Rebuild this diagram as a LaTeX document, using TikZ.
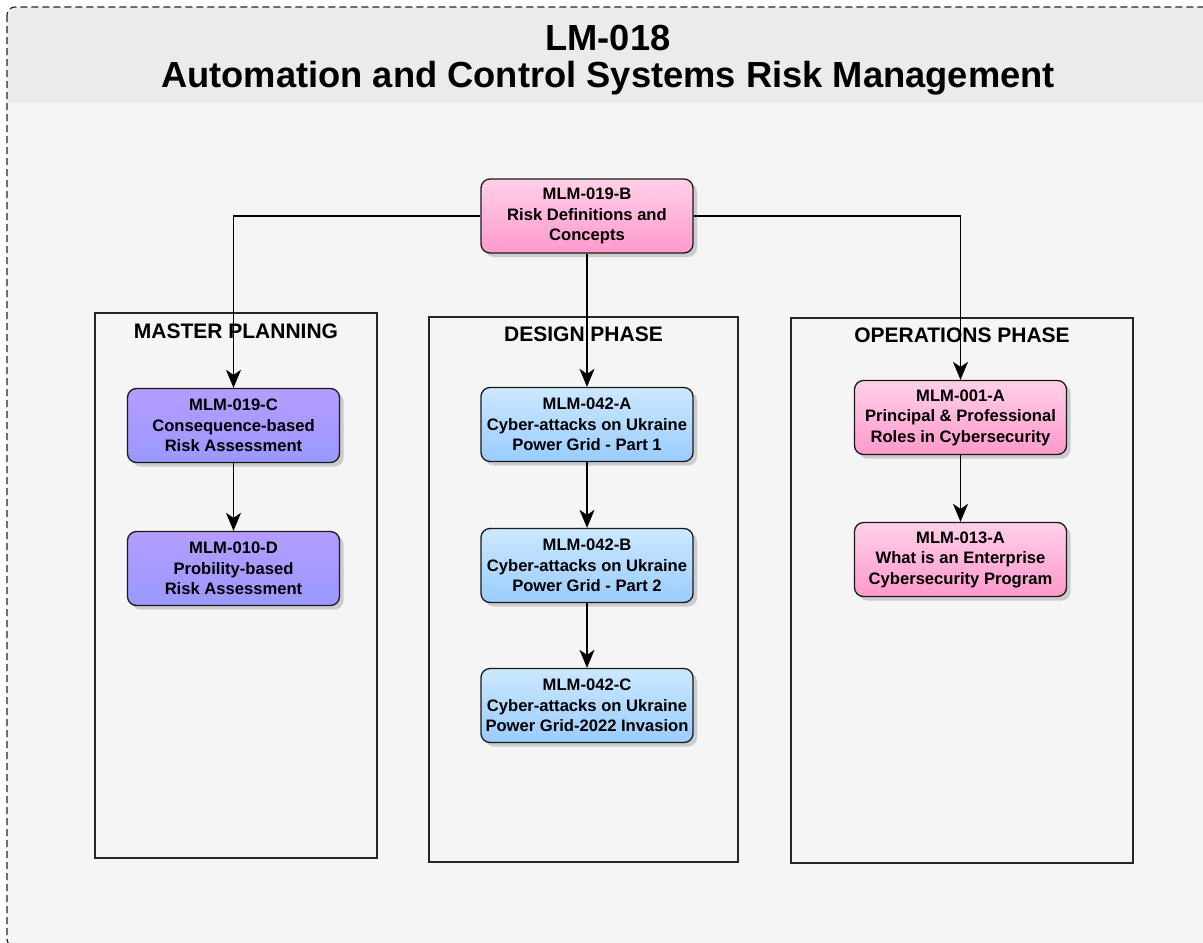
\documentclass[tikz,border=0pt]{standalone}
\usepackage{fontspec}
\setmainfont{Liberation Sans}
\usetikzlibrary{arrows.meta,shadows}
\definecolor{bandgray}{HTML}{EBEBEB}
\definecolor{bodygray}{HTML}{F5F5F5}
\definecolor{pinktop}{HTML}{FFD0E8}
\definecolor{pinkbot}{HTML}{FF99CC}
\definecolor{purptop}{HTML}{B69CFF}
\definecolor{purpbot}{HTML}{9999FF}
\definecolor{bluetop}{HTML}{CCE8FF}
\definecolor{bluebot}{HTML}{99CCFF}
\tikzset{
  course/.style={draw=black!90, line width=1.3pt, rounded corners=9pt,
    minimum width=212pt, minimum height=74pt, inner sep=2pt, align=center,
    font=\bfseries\fontsize{16.6}{20.5}\selectfont,
    drop shadow={shadow xshift=4pt, shadow yshift=-4pt, opacity=0.35}},
  pinkc/.style={course, top color=pinktop, bottom color=pinkbot},
  purpc/.style={course, top color=purptop, bottom color=purpbot},
  bluec/.style={course, top color=bluetop, bottom color=bluebot},
  phase/.style={draw=black!85, line width=1.3pt},
  phasetitle/.style={font=\bfseries\fontsize{21}{25}\selectfont},
  arr/.style={line width=1.4pt, -{Stealth[length=18pt,width=15pt,inset=5pt]}}
}
\begin{document}
\begin{tikzpicture}[x=1pt,y=-1pt]
  \useasboundingbox (0,0) rectangle (1203,943);
  % frame and title band
  \begin{scope}
    \clip[rounded corners=8pt] (7,7) rectangle (1215,947);
    \fill[bodygray] (7,7) rectangle (1215,947);
    \fill[bandgray] (7,7) rectangle (1215,103);
  \end{scope}
  \draw[black!85, line width=1.2pt, dash pattern=on 7pt off 4pt, rounded corners=8pt]
    (7,7) rectangle (1215,947);
  \node (t1) at (608,38) [font=\bfseries\fontsize{36.3}{40}\selectfont] {LM-018};
  \node (t2) at (608,78) [font=\bfseries\fontsize{36.3}{40}\selectfont]
    {Automation and Control Systems Risk Management};
  % phases
  \draw[phase] (95,313) rectangle (377,858);
  \draw[phase] (429,317) rectangle (738,862);
  \draw[phase] (791,318) rectangle (1133,863);
  \node (mp) at (236,331) [phasetitle] {MASTER PLANNING};
  \node (dp) at (583.5,334) [phasetitle] {DESIGN PHASE};
  \node (op) at (962,335) [phasetitle] {OPERATIONS PHASE};
  % courses
  \node (b019) at (587,216) [pinkc] {MLM-019-B\\Risk Definitions and\\Concepts};
  \node (c019) at (233.5,425.5) [purpc] {MLM-019-C\\Consequence-based\\Risk Assessment};
  \node (d010) at (233.5,568.5) [purpc] {MLM-010-D\\Probility-based\\Risk Assessment};
  \node (a042) at (587,424.5) [bluec] {MLM-042-A\\Cyber-attacks on Ukraine\\Power Grid - Part 1};
  \node (b042) at (587,565.5) [bluec] {MLM-042-B\\Cyber-attacks on Ukraine\\Power Grid - Part 2};
  \node (c042) at (587,705.5) [bluec] {MLM-042-C\\Cyber-attacks on Ukraine\\Power Grid-2022 Invasion};
  \node (a001) at (960.5,417.5) [pinkc] {MLM-001-A\\Principal \& Professional\\Roles in Cybersecurity};
  \node (a013) at (960.5,559.5) [pinkc] {MLM-013-A\\What is an Enterprise\\Cybersecurity Program};
  % links
  \draw[arr] (b019.west) -| (c019.north);
  \draw[arr] (b019.east) -| (a001.north);
  \draw[arr] (b019.south) -- (a042.north);
  \draw[arr] (c019) -- (d010);
  \draw[arr] (a042) -- (b042);
  \draw[arr] (b042) -- (c042);
  \draw[arr] (a001) -- (a013);
\end{tikzpicture}
\end{document}
